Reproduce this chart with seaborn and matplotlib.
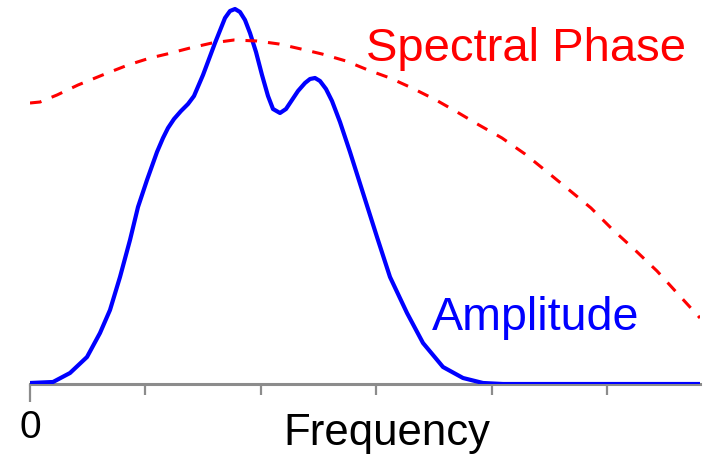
import matplotlib
matplotlib.use("Agg")
import matplotlib.pyplot as plt
import seaborn as sns
import pandas as pd

# Curves (pixel positions), converted to data units below
amp_x_px = [30, 53, 70, 87, 100, 110, 120, 130, 138, 147, 157, 163, 168, 174, 181, 188, 194,
            203, 215, 225, 230, 235, 240, 245, 250, 256, 262, 268, 273, 280, 286, 292, 298,
            305, 310, 315, 320, 326, 332, 340, 350, 363, 377, 390, 407, 423, 443, 463, 483,
            503, 560, 700]
amp_y_px = [383, 382, 373, 357, 333, 310, 277, 240, 207, 180, 152, 138, 128, 119, 111, 104, 96,
            75, 43, 18, 11, 9, 12, 20, 33, 52, 75, 96, 109, 113, 109, 100, 91,
            83, 79, 78, 81, 89, 101, 122, 152, 193, 237, 277, 313, 343, 367, 378, 383,
            384, 384, 384]
phase_x_px = [30, 40, 57, 78, 105, 128, 150, 167, 190, 212, 234, 257, 279, 301, 322, 346, 368,
              390, 412, 436, 457, 479, 502, 525, 546, 568, 591, 612, 635, 657, 678, 700]
phase_y_px = [103, 102, 95, 85, 74, 65, 58, 54, 48, 43, 40, 41, 44, 49, 54, 61, 70,
              78, 88, 100, 112, 125, 138, 154, 171, 189, 208, 229, 250, 271, 294, 318]

X0, UNIT, BASE, PEAK = 30.0, 115.4, 384.0, 374.0
freq_amp = [(p - X0) / UNIT for p in amp_x_px]
amplitude = [(BASE - p) / PEAK for p in amp_y_px]
freq_phase = [(p - X0) / UNIT for p in phase_x_px]
phase = [(BASE - p) / PEAK for p in phase_y_px]
tick_pos = [0, 1, 2, 3, 4, 5]
tick_labels = ["0", "", "", "", "", ""]

sns.set_style("white")
plt.rcParams['font.family'] = ['Liberation Sans', 'DejaVu Sans']

W, H = 711, 459
fig = plt.figure(figsize=(W / 100, H / 100), dpi=100)
ax = fig.add_axes([X0 / W, (H - BASE) / H, 670 / W, BASE / H])

df_amp = pd.DataFrame({"f": freq_amp, "a": amplitude})
df_ph = pd.DataFrame({"f": freq_phase, "p": phase})
sns.lineplot(data=df_amp, x="f", y="a", ax=ax, color="#0000ff", linewidth=3, sort=False)
sns.lineplot(data=df_ph, x="f", y="p", ax=ax, color="#ff0000", linewidth=2.2, sort=False,
             linestyle=(0, (3.8, 3.6)))
for ln in ax.lines:
    ln.set_solid_joinstyle("round")
    ln.set_solid_capstyle("round")

ax.set_xlim(0, 670 / UNIT)
ax.set_ylim(0, 1.0 * BASE / PEAK)
for s in ["top", "right", "left"]:
    ax.spines[s].set_visible(False)
ax.spines["bottom"].set_color("#8c8c8c")
ax.spines["bottom"].set_linewidth(2.2)
ax.spines["bottom"].set_zorder(0)
ax.set_yticks([])
ax.set_xticks(tick_pos[:1])
ax.set_xticklabels(tick_labels[:1], fontsize=28, color="black")
ax.set_xticks(tick_pos[1:], minor=True)
ax.tick_params(axis="x", which="major", length=13, width=1.6, color="#8c8c8c", pad=6,
               bottom=True, labelcolor="black")
ax.tick_params(axis="x", which="minor", length=8, width=1.6, color="#8c8c8c", bottom=True)
ax.set_xlabel("")
ax.set_ylabel("")

def px(x, y):
    return x / W, 1 - y / H

fig.text(*px(283, 445), "Frequency", fontsize=31.5, color="black", ha="left", va="baseline")
fig.text(*px(366, 61), "Spectral Phase", fontsize=34, color="#ff0000", ha="left", va="baseline")
fig.text(*px(432, 330), "Amplitude", fontsize=33.6, color="#0000ff", ha="left", va="baseline")

fig.savefig("out.png", dpi=100)
